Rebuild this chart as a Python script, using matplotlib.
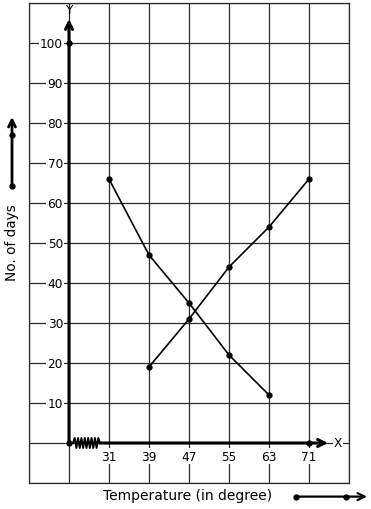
import numpy as np
import matplotlib
matplotlib.use('Agg')
import matplotlib.pyplot as plt

# data
temp_a = [31, 39, 47, 55, 63]
days_a = [66, 47, 35, 22, 12]
temp_b = [39, 47, 55, 63, 71]
days_b = [19, 31, 44, 54, 66]
x_ticks = [31, 39, 47, 55, 63, 71]
y_ticks = [10, 20, 30, 40, 50, 60, 70, 80, 90, 100]

X0 = 23  # origin column on the broken temperature axis
GRID = '#2b2b2b'

fig = plt.figure(figsize=(3.71, 5.10), dpi=100)
ax = fig.add_axes([29/371, 26/510, 320/371, 480/510])
ax.set_xlim(15, 79)
ax.set_ylim(-10, 110)
ax.set_xticks(np.arange(15, 80, 8))
ax.set_yticks(np.arange(-10, 111, 10))
ax.tick_params(length=0, labelbottom=False, labelleft=False)
ax.grid(color=GRID, lw=0.9)
for s in ax.spines.values():
    s.set_color(GRID)
    s.set_linewidth(0.9)

fs = 8.7
bb = dict(facecolor='white', edgecolor='none', pad=1)
head = '->,head_length=0.5,head_width=0.25'

# y axis
ax.annotate('', xy=(X0, 106), xytext=(X0, 0),
            arrowprops=dict(arrowstyle=head, lw=2.2, color='black', shrinkA=0, shrinkB=0))
ax.text(X0 + 0.2, 108.3, 'Y', ha='center', va='center', fontsize=fs)
for v in y_ticks:
    ax.text(21.8, v, str(v), ha='right', va='center', fontsize=fs, bbox=bb, zorder=3)

# x axis with break
n = 17
zx = np.linspace(23.8, 29.2, n)
zy = np.array([0 if i in (0, n - 1) else (1.25 if i % 2 else -1.25) for i in range(n)])
ax.plot([X0, 23.8], [0, 0], color='black', lw=1.2)
ax.plot(zx, zy, color='black', lw=1.4)
ax.annotate('', xy=(74.8, 0), xytext=(29.2, 0),
            arrowprops=dict(arrowstyle=head, lw=2.2, color='black', shrinkA=0, shrinkB=0))
ax.text(76.8, 0.2, 'X', ha='center', va='center', fontsize=fs, bbox=bb, zorder=3)
for v in x_ticks:
    ax.text(v, -3.3, str(v), ha='center', va='center', fontsize=fs, bbox=bb, zorder=3)
ax.plot([X0, X0, 71], [0, 100, 0], 'o', color='black', ms=3.5, zorder=4)

# the two series
ax.plot(temp_a, days_a, '-o', color='black', lw=1.2, ms=3.5, zorder=4)
ax.plot(temp_b, days_b, '-o', color='black', lw=1.2, ms=3.5, zorder=4)

# outside labels and direction arrows
ax.text(11.6, 50.3, 'No. of days', rotation=90, ha='center', va='center', fontsize=9.8, clip_on=False)
ax.annotate('', xy=(11.6, 81.5), xytext=(11.6, 64.25), annotation_clip=False,
            arrowprops=dict(arrowstyle=head, lw=2, color='black', shrinkA=0, shrinkB=0))
ax.plot([11.6, 11.6], [64.25, 77], 'o', color='black', ms=3.5, clip_on=False)

ax.text(46.8, -13.1, 'Temperature (in degree)', ha='center', va='center', fontsize=10, clip_on=False)
ax.annotate('', xy=(82.6, -13.4), xytext=(68.4, -13.4), annotation_clip=False,
            arrowprops=dict(arrowstyle=head, lw=1.6, color='black', shrinkA=0, shrinkB=0))
ax.plot([68.4, 78.4], [-13.4, -13.4], 'o', color='black', ms=3.5, clip_on=False)

fig.savefig('out.png', dpi=100)
